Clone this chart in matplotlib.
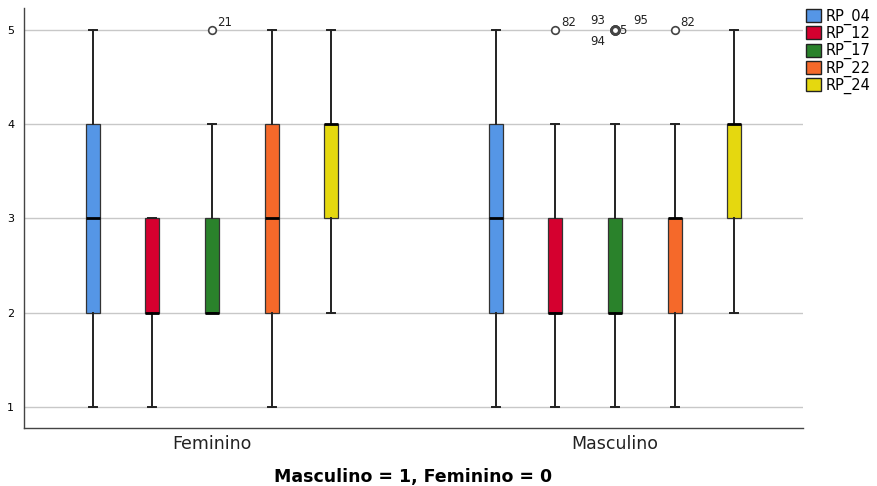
import matplotlib
matplotlib.use("Agg")
import matplotlib.pyplot as plt
from matplotlib.patches import Patch

plt.rcParams['font.family'] = ['DejaVu Sans']

groups = ["Feminino", "Masculino"]
series = ["RP_04", "RP_12", "RP_17", "RP_22", "RP_24"]
colors = ["#5596e6", "#d5002f", "#2a822b", "#f5692a", "#e5d80f"]

# five-number summaries per group: [whislo, q1, med, q3, whishi]
fem = [[1, 2, 3, 4, 5], [1, 2, 2, 3, 3], [2, 2, 2, 3, 4], [1, 2, 3, 4, 5], [2, 3, 4, 4, 5]]
mas = [[1, 2, 3, 4, 5], [1, 2, 2, 3, 4], [1, 2, 2, 3, 4], [1, 2, 3, 3, 4], [2, 3, 4, 4, 5]]
fem_out = [[], [], [5], [], []]
mas_out = [[], [5], [5, 5, 5, 5], [5], []]
fem_out_labels = [[], [], ["21"], [], []]
mas_out_labels = [[], ["82"], ["93", "94", "5", "95"], ["82"], []]

fig = plt.figure(figsize=(8.77, 4.86), dpi=100)
ax = fig.add_axes([24/877, 58/486, (803-24)/877, (428-8)/486])

group_centers = [0.0, 1.0]
offsets = [-0.295, -0.148, 0.0, 0.148, 0.295]
width = 0.035

label_offsets_single = [(4, 3)]
label_offsets_multi = [(-18, 4), (-18, -11), (3, -3), (13, 4)]

for gi, (data, outs, olabels) in enumerate([(fem, fem_out, fem_out_labels), (mas, mas_out, mas_out_labels)]):
    for si in range(5):
        lo, q1, med, q3, hi = data[si]
        stats = [dict(whislo=lo, q1=q1, med=med, q3=q3, whishi=hi, fliers=outs[si])]
        pos = group_centers[gi] + offsets[si]
        ax.bxp(stats, positions=[pos], widths=width, patch_artist=True,
               boxprops=dict(facecolor=colors[si], edgecolor="#333333", linewidth=0.9),
               medianprops=dict(color="black", linewidth=2),
               whiskerprops=dict(color="#222222", linewidth=1.4),
               capprops=dict(color="#222222", linewidth=1.4),
               capwidths=width * 0.55,
               flierprops=dict(marker="o", markersize=5.5, markerfacecolor="white",
                               markeredgecolor="#444444", markeredgewidth=1.2 if len(outs[si]) < 2 else 2.0),
               manage_ticks=False, zorder=3)
        labs = olabels[si]
        offs = label_offsets_single if len(labs) == 1 else label_offsets_multi
        for lab, off in zip(labs, offs):
            ax.annotate(lab, (pos, outs[si][0]), xytext=off, textcoords="offset points",
                        fontsize=8.5, color="#222222")

ax.set_ylim(0.777, 5.233)
ax.set_xlim(-0.4665, 1.4665)
ax.set_yticks([1, 2, 3, 4, 5])
ax.set_yticklabels(["1", "2", "3", "4", "5"], fontsize=8)
ax.set_xticks(group_centers)
ax.set_xticklabels(groups, fontsize=12.5, color="#222222")
ax.tick_params(axis="x", length=0, pad=5)
ax.tick_params(axis="y", length=0, pad=7)
ax.yaxis.grid(True, color="#c8c8c8", linewidth=1)
ax.set_axisbelow(True)
for s in ["top", "right"]:
    ax.spines[s].set_visible(False)
for s in ["left", "bottom"]:
    ax.spines[s].set_color("#444444")
    ax.spines[s].set_linewidth(1)
ax.set_xlabel("Masculino = 1, Feminino = 0", fontsize=12.5, fontweight="bold", labelpad=11)

handles = [Patch(facecolor=c, edgecolor="#222222", label=s) for c, s in zip(colors, series)]
fig.legend(handles=handles, loc="upper left", bbox_to_anchor=(802/877, 1 - 4/486),
           frameon=False, fontsize=10.5, handlelength=1.0, handleheight=1.0,
           handletextpad=0.35, labelspacing=0.08, borderaxespad=0, borderpad=0.3)

fig.savefig("out.png", dpi=100)
